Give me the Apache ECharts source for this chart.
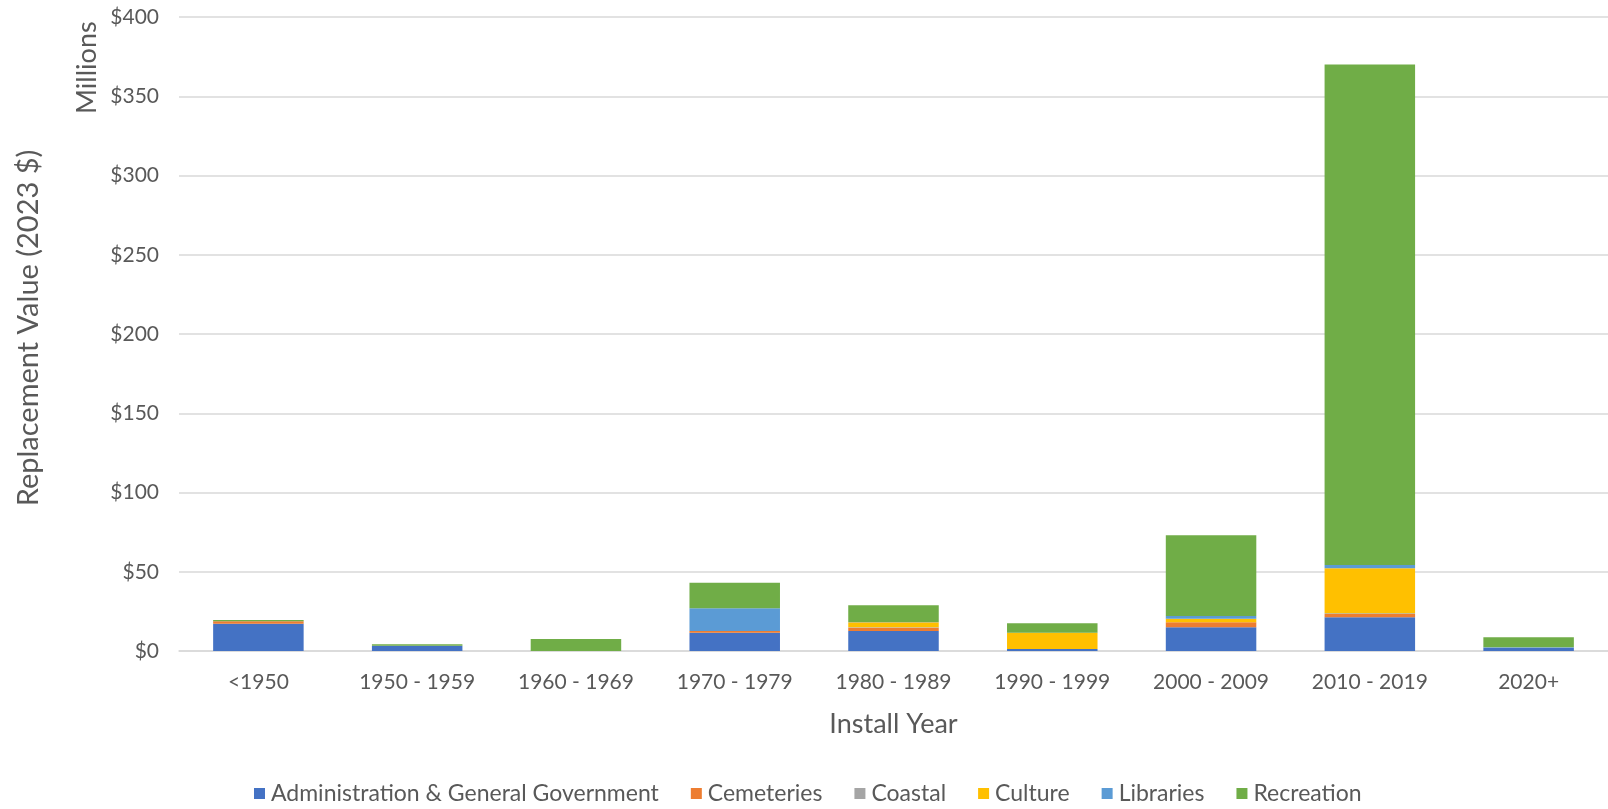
<!DOCTYPE html>
<html>
<head>
<meta charset="utf-8">
<script src="https://cdn.jsdelivr.net/npm/echarts@6/dist/echarts.min.js"></script>
<style>
html,body{margin:0;padding:0;background:#fff;}
#chart{width:1608px;height:809px;}
</style>
</head>
<body>
<div id="chart"></div>
<script>
const categories = ['<1950','1950 - 1959','1960 - 1969','1970 - 1979','1980 - 1989','1990 - 1999','2000 - 2009','2010 - 2019','2020+'];
const admin      = [17.2, 3.3, 0, 11.5, 12.6, 1.3, 15.0, 21.3, 2.1];
const cemeteries = [1.5, 0, 0, 1.1, 2.1, 0, 3.1, 2.0, 0];
const coastal    = [0, 0, 0, 0, 0.3, 0, 0, 0.5, 0];
const culture    = [0, 0, 0, 0, 3.1, 10.2, 2.3, 28.4, 0];
const libraries  = [0, 0, 0, 14.3, 0.2, 0, 1.7, 2.1, 0.3];
const recreation = [0.9, 0.9, 7.5, 16.2, 10.5, 6.0, 50.9, 315.7, 6.3];
const yTicks = [0, 50, 100, 150, 200, 250, 300, 350, 400];

const seriesDefs = [
  {name:'Administration & General Government', data: admin, color:'#4472C4'},
  {name:'Cemeteries', data: cemeteries, color:'#ED7D31'},
  {name:'Coastal', data: coastal, color:'#A5A5A5'},
  {name:'Culture', data: culture, color:'#FFC000'},
  {name:'Libraries', data: libraries, color:'#5B9BD5'},
  {name:'Recreation', data: recreation, color:'#70AD47'}
];
const FONT = 'Lato';
const TXT = '#595959';
const chart = echarts.init(document.getElementById('chart'), null, {renderer:'canvas'});
chart.setOption({
  animation:false,
  backgroundColor:'#fff',
  textStyle:{fontFamily:FONT},
  grid:{left:179, right:-4, top:17, bottom:158, containLabel:false},
  legend:{
    bottom:-1, left:254,
    padding:[5,0,5,0],
    itemWidth:11, itemHeight:11, itemGap:32,
    icon:'rect',
    textStyle:{fontFamily:FONT, fontSize:23, color:TXT, padding:[0,0,0,1]},
    data: seriesDefs.map(s=>s.name)
  },
  xAxis:{
    type:'category', data:categories,
    name:'Install Year', nameLocation:'middle', nameGap:60,
    nameTextStyle:{fontFamily:FONT, fontSize:27, color:TXT},
    axisLine:{show:true, lineStyle:{color:'#D9D9D9', width:1.5}},
    axisTick:{show:false},
    axisLabel:{fontFamily:FONT, fontSize:21, color:TXT, margin:21}
  },
  yAxis:{
    type:'value', min:0, max:400, interval:50,
    name:'Replacement Value (2023 $)', nameLocation:'middle', nameGap:136, nameRotate:90,
    nameTextStyle:{fontFamily:FONT, fontSize:29, color:TXT, padding:[0,0,0,12]},
    axisLine:{show:false}, axisTick:{show:false},
    axisLabel:{fontFamily:FONT, fontSize:21, color:TXT, margin:20,
      formatter:v=> yTicks.includes(v) ? '$'+v : ''},
    splitLine:{lineStyle:{color:'#D9D9D9', width:1.5}}
  },
  graphic:[{
    type:'text', rotation:Math.PI/2, x:74, y:114,
    style:{text:'Millions', fontFamily:FONT, fontSize:27, fill:TXT, textAlign:'left', textVerticalAlign:'top'}
  }],
  series: seriesDefs.map(s=>({
    name:s.name, type:'bar', stack:'total', data:s.data,
    barWidth:'57%',
    itemStyle:{color:s.color},
    emphasis:{disabled:true}
  }))
});
</script>
</body>
</html>
